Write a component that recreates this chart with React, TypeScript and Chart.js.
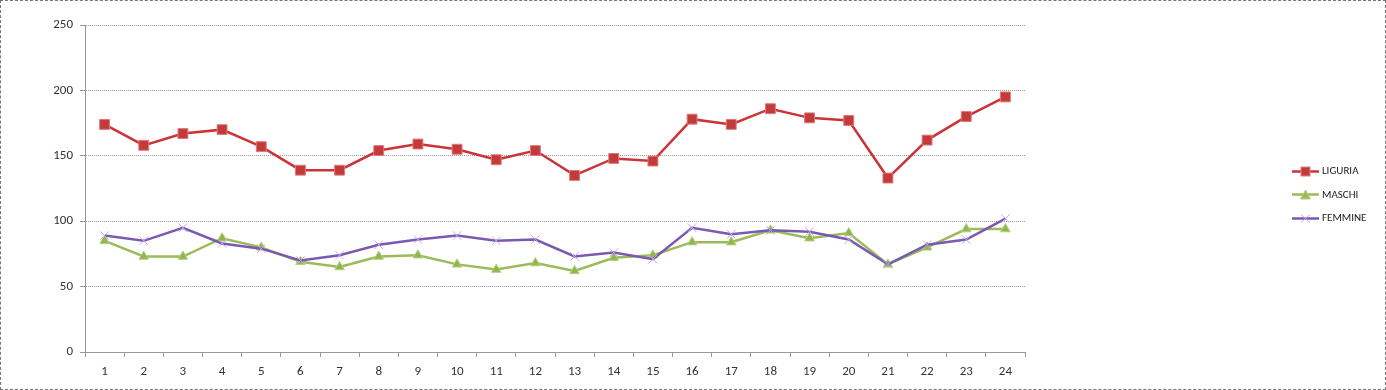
import React, { useEffect, useRef } from "react";
import { Chart, registerables } from "chart.js";
Chart.register(...registerables);

const categories = ["1","2","3","4","5","6","7","8","9","10","11","12","13","14","15","16","17","18","19","20","21","22","23","24"];
const liguria = [174,158,167,170,157,139,139,154,159,155,147,154,135,148,146,178,174,186,179,177,133,162,180,195];
const maschi = [85,73,73,87,80,69,65,73,74,67,63,68,62,72,74,84,84,93,87,91,67,80,94,94];
const femmine = [89,85,95,83,79,70,74,82,86,89,85,86,73,76,71,95,90,93,92,86,67,82,86,102];
const seriesNames = ["LIGURIA", "MASCHI", "FEMMINE"];
const yMin = 0;
const yMax = 250;
const yStep = 50;

const FONT = "Carlito, 'Liberation Sans', Arial, sans-serif";

const RED = "#cc3336";
const GREEN = "#9bbb59";
const PURPLE = "#7a5ab0";

function LegendItem({ label, kind, color }: { label: string; kind: string; color: string }) {
  let marker: React.ReactNode = null;
  if (kind === "rect") {
    marker = <rect x={9} y={1} width={9} height={9} fill="#c23a3a" stroke="#e08080" strokeWidth={1} />;
  } else if (kind === "tri") {
    marker = <polygon points="13.5,1 18.5,10 8.5,10" fill={GREEN} stroke="#b5d080" strokeWidth={1} />;
  } else {
    marker = (
      <g stroke="#c3a8ea" strokeWidth={1}>
        <line x1={9} y1={1.5} x2={18} y2={9.5} />
        <line x1={18} y1={1.5} x2={9} y2={9.5} />
      </g>
    );
  }
  return (
    <div style={{ display: "flex", alignItems: "center", height: 12, marginBottom: 11.5 }}>
      <svg width={28} height={11} style={{ display: "block" }}>
        <line x1={0} y1={5.5} x2={27} y2={5.5} stroke={color} strokeWidth={2.5} />
        {marker}
      </svg>
      <span style={{ fontFamily: FONT, fontSize: 11, color: "#222", marginLeft: 2, lineHeight: "12px" }}>{label}</span>
    </div>
  );
}

export default function App() {
  const ref = useRef<HTMLCanvasElement>(null);
  useEffect(() => {
    const chart = new Chart(ref.current!, {
      type: "line",
      data: {
        labels: categories,
        datasets: [
          {
            label: seriesNames[0],
            data: liguria,
            borderColor: RED,
            borderWidth: 2.5,
            pointStyle: "rect",
            pointRadius: 7,
            pointBackgroundColor: "#c23a3a",
            pointBorderColor: "#e07a7a",
            pointBorderWidth: 1,
            tension: 0,
            order: 3,
          },
          {
            label: seriesNames[1],
            data: maschi,
            borderColor: GREEN,
            borderWidth: 2.5,
            pointStyle: "triangle",
            pointRadius: 5.5,
            pointBackgroundColor: "#8fb84a",
            pointBorderColor: "#b5d080",
            pointBorderWidth: 1,
            tension: 0,
            order: 2,
          },
          {
            label: seriesNames[2],
            data: femmine,
            borderColor: PURPLE,
            borderWidth: 2.5,
            pointStyle: "crossRot",
            pointRadius: 6,
            pointBorderColor: "#c3a8ea",
            pointBorderWidth: 1,
            tension: 0,
            order: 1,
          },
        ],
      },
      options: {
        responsive: false,
        animation: false,
        layout: { padding: { left: 0, right: 361, top: 25, bottom: 0 } },
        plugins: { legend: { display: false }, tooltip: { enabled: false } },
        scales: {
          x: {
            type: "category",
            offset: true,
            grid: {
              offset: true,
              drawOnChartArea: false,
              drawTicks: true,
              tickLength: 5,
              color: "#999",
            },
            border: { color: "#999", width: 1 },
            ticks: {
              font: { family: FONT, size: 13 },
              color: "#333",
              padding: 7,
              maxRotation: 0,
              autoSkip: false,
            },
            afterFit: (s: any) => {
              s.height = 38;
            },
          },
          y: {
            min: yMin,
            max: yMax,
            ticks: {
              stepSize: yStep,
              font: { family: FONT, size: 13 },
              color: "#333",
              padding: 7,
            },
            grid: {
              color: "#999",
              tickLength: 5,
              lineWidth: 1,
            },
            border: { color: "#999", width: 1, dash: [1, 1] },
            afterFit: (s: any) => {
              s.width = 85;
            },
          },
        },
      },
    } as any);
    return () => chart.destroy();
  }, []);

  return (
    <div style={{ position: "fixed", left: 0, top: 0, width: 1386, height: 390, background: "#fff" }}>
      <canvas ref={ref} width={1386} height={390} style={{ position: "absolute", left: 0, top: 0, width: 1386, height: 390 }} />
      <div style={{ position: "absolute", left: 1292, top: 165 }}>
        <LegendItem label={seriesNames[0]} kind="rect" color={RED} />
        <LegendItem label={seriesNames[1]} kind="tri" color={GREEN} />
        <LegendItem label={seriesNames[2]} kind="cross" color={PURPLE} />
      </div>
      <div
        style={{
          position: "absolute",
          left: 0,
          top: 0,
          width: 1386,
          height: 390,
          boxSizing: "border-box",
          border: "1px dashed #777",
          pointerEvents: "none",
        }}
      />
    </div>
  );
}
